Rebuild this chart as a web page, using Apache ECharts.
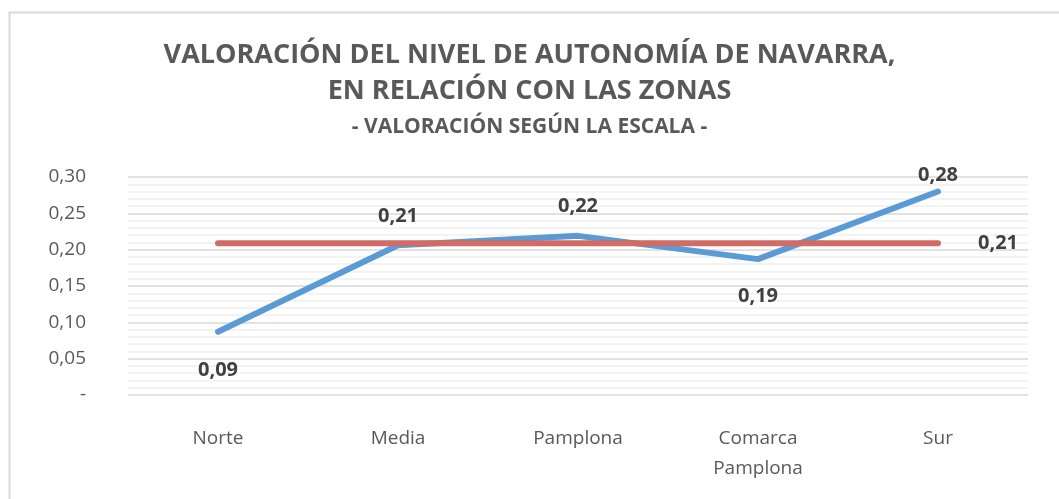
<!DOCTYPE html>
<html>
<head>
<meta charset="utf-8">
<script src="https://cdn.jsdelivr.net/npm/echarts@6/dist/echarts.min.js"></script>
<style>
  html, body { margin: 0; padding: 0; background: #fff; }
  #chart { width: 1059px; height: 499px; }
</style>
</head>
<body>
<div id="chart"></div>
<script>
// Zonas y valores
const zonas = ['Norte', 'Media', 'Pamplona', 'Comarca\nPamplona', 'Sur']
const valoracion = [0.087, 0.206, 0.219, 0.187, 0.280]
const mediaNavarra = [0.209, 0.209, 0.209, 0.209, 0.209]
// posición y separación de la etiqueta de cada punto azul
const posEtiqueta = ['bottom', 'top', 'top', 'bottom', 'top']
const sepEtiqueta = [28, 19, 19, 27, 6]

const FONT = '"Open Sans", sans-serif'
const GRAY = '#595959'
const LABEL = '#404040'

const fmt = v => v.toFixed(2).replace('.', ',')

const titleLine = (text, top, size) => ({
  type: 'text',
  left: 'center', top,
  style: { text, fill: GRAY, font: 'bold ' + size + 'px ' + FONT }
})

const chart = echarts.init(document.getElementById('chart'))
chart.setOption({
  animation: false,
  textStyle: { fontFamily: FONT },
  graphic: [{
    type: 'rect',
    shape: { x: 9.5, y: 12.5, width: 1100, height: 600 },
    style: { fill: 'none', stroke: '#d9d9d9', lineWidth: 2 },
    silent: true
  },
    titleLine('VALORACIÓN DEL NIVEL DE AUTONOMÍA DE NAVARRA,', 42, 27),
    titleLine('EN RELACIÓN CON LAS ZONAS', 78, 27),
    titleLine('- VALORACIÓN SEGÚN LA ESCALA -', 117, 21)
  ],
  grid: { left: 128, right: 31, top: 177, bottom: 104 },
  xAxis: {
    type: 'category',
    data: zonas,
    boundaryGap: true,
    axisLine: { show: false },
    axisTick: { show: false },
    axisLabel: { color: GRAY, fontSize: 19, fontFamily: FONT, margin: 29, lineHeight: 30 }
  },
  yAxis: {
    type: 'value',
    min: 0, max: 0.30, interval: 0.05,
    axisLine: { show: false },
    axisTick: { show: false },
    axisLabel: {
      color: GRAY, fontSize: 19, fontFamily: FONT, margin: 42,
      formatter: v => v === 0 ? '-' : fmt(v)
    },
    splitLine: { lineStyle: { color: '#d9d9d9', width: 1.5 } },
    minorTick: { show: false, splitNumber: 5 },
    minorSplitLine: { show: true, lineStyle: { color: '#efefef', width: 1.5 } }
  },
  series: [{
    name: 'Zonas',
    type: 'line',
    data: valoracion.map((v, i) => ({
      value: v,
      label: { position: posEtiqueta[i], distance: sepEtiqueta[i] }
    })),
    symbol: 'circle',
    symbolSize: 1,
    showSymbol: true,
    itemStyle: { color: 'transparent' },
    lineStyle: { color: '#5B9BD5', width: 6, cap: 'round' },
    label: {
      show: true,
      formatter: p => fmt(p.value),
      color: LABEL, fontWeight: 'bold', fontSize: 20, fontFamily: FONT
    },
    z: 2
  }, {
    name: 'Navarra',
    type: 'line',
    data: mediaNavarra,
    symbol: 'none',
    lineStyle: { color: '#D06B66', width: 6, cap: 'round' },
    endLabel: {
      show: true,
      formatter: p => fmt(p.value),
      color: LABEL, fontWeight: 'bold', fontSize: 20, fontFamily: FONT, distance: 40
    },
    z: 3
  }]
})
</script>
</body>
</html>
